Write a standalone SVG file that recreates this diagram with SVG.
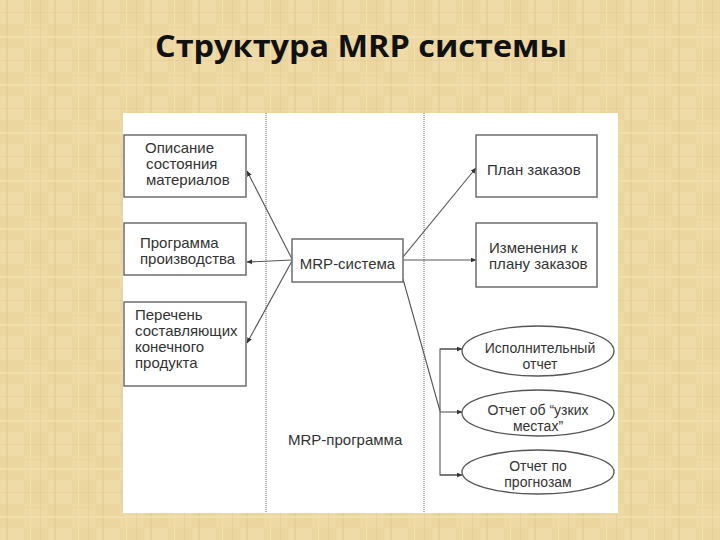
<svg xmlns="http://www.w3.org/2000/svg" width="720" height="540" viewBox="0 0 720 540">
  <defs>
    <pattern id="parch" x="0" y="0" width="48" height="48" patternUnits="userSpaceOnUse">
      <rect width="48" height="48" fill="#ecd6a0"/>
      <rect x="0" y="0" width="24" height="24" fill="#efdba8"/>
      <rect x="24" y="24" width="24" height="24" fill="#eed8a3"/>
      <rect x="6" y="0" width="2" height="48" fill="#e5cd93" opacity="0.7"/>
      <rect x="30" y="0" width="1" height="48" fill="#f2e1b4" opacity="0.8"/>
      <rect x="0" y="12" width="48" height="1" fill="#e4cc92" opacity="0.6"/>
      <rect x="0" y="36" width="48" height="2" fill="#f3e2b6" opacity="0.6"/>
      <rect x="40" y="0" width="1" height="48" fill="#e2ca8e" opacity="0.5"/>
      <rect x="0" y="27" width="48" height="1" fill="#e7d199" opacity="0.5"/>
    </pattern>
    <marker id="arr" viewBox="0 0 10 10" refX="9" refY="5" markerWidth="6" markerHeight="6" orient="auto" markerUnits="userSpaceOnUse">
      <path d="M0,1 L10,5 L0,9 z" fill="#333"/>
    </marker>
    <style>
      .lbl { font-family: "Liberation Sans", Arial, sans-serif; font-size: 15px; fill: #333; }
      .el { font-size: 14px; }
      .mid { text-anchor: middle; }
      .box { fill: #fff; stroke: #6e6e6e; stroke-width: 1.5; }
      .ell { fill: #fff; stroke: #555; stroke-width: 1.3; }
      .ln { fill: none; stroke: #555; stroke-width: 1.1; }
      .dot { stroke: #9a9a9a; stroke-width: 1.5; stroke-dasharray: 1 1; }
    </style>
  </defs>

  <rect width="720" height="540" fill="url(#parch)"/>

  <text x="361" y="57" text-anchor="middle" font-family="'Open Sans', 'Noto Sans', sans-serif" font-weight="bold" font-size="31" fill="#111" textLength="412" lengthAdjust="spacingAndGlyphs">Структура MRP системы</text>

  <rect x="123" y="113" width="495" height="400" fill="#fff"/>

  <g id="dividers">
    <line class="dot" x1="266" y1="113" x2="266" y2="513"/>
    <line class="dot" x1="424" y1="113" x2="424" y2="513"/>
  </g>

  <g id="connectors">
    <line class="ln" x1="292" y1="259" x2="247" y2="171" marker-end="url(#arr)"/>
    <line class="ln" x1="292" y1="260" x2="247" y2="262" marker-end="url(#arr)"/>
    <line class="ln" x1="292" y1="261" x2="247" y2="343" marker-end="url(#arr)"/>
    <line class="ln" x1="403" y1="257" x2="476" y2="168" marker-end="url(#arr)"/>
    <line class="ln" x1="403" y1="260" x2="476" y2="260" marker-end="url(#arr)"/>
    <line class="ln" x1="403" y1="279" x2="440" y2="411"/>
    <polyline class="ln" points="459,349 440,349 440,475 459,475"/>
    <line class="ln" x1="440" y1="349" x2="462" y2="349" marker-end="url(#arr)"/>
    <line class="ln" x1="440" y1="412" x2="462" y2="412" marker-end="url(#arr)"/>
    <line class="ln" x1="440" y1="475" x2="462" y2="475" marker-end="url(#arr)"/>
  </g>

  <g id="mrp-system">
    <rect class="box" x="292" y="239" width="111" height="43"/>
    <text class="lbl mid" x="347.5" y="269">MRP-система</text>
  </g>

  <g id="materials">
    <rect class="box" x="124" y="135" width="122" height="62"/>
    <text class="lbl" x="145" y="153">Описание</text>
    <text class="lbl" x="146" y="169">состояния</text>
    <text class="lbl" x="146" y="185">материалов</text>
  </g>

  <g id="production">
    <rect class="box" x="124" y="223" width="122" height="52"/>
    <text class="lbl" x="140" y="248">Программа</text>
    <text class="lbl" x="140" y="264">производства</text>
  </g>

  <g id="components">
    <rect class="box" x="124" y="302" width="122" height="84"/>
    <text class="lbl" x="135" y="320">Перечень</text>
    <text class="lbl" x="135" y="336">составляющих</text>
    <text class="lbl" x="135" y="352">конечного</text>
    <text class="lbl" x="135" y="368">продукта</text>
  </g>

  <g id="order-plan">
    <rect class="box" x="476" y="135" width="121" height="62"/>
    <text class="lbl" x="487" y="175">План заказов</text>
  </g>

  <g id="plan-changes">
    <rect class="box" x="476" y="223" width="121" height="64"/>
    <text class="lbl" x="489" y="253">Изменения к</text>
    <text class="lbl" x="489" y="269">плану заказов</text>
  </g>

  <g id="exec-report">
    <ellipse class="ell" cx="538" cy="351" rx="76" ry="25"/>
    <text class="lbl el mid" x="540" y="353">Исполнительный</text>
    <text class="lbl el mid" x="540" y="369">отчет</text>
  </g>

  <g id="bottleneck-report">
    <ellipse class="ell" cx="538" cy="413" rx="76" ry="23"/>
    <text class="lbl el mid" x="538" y="415">Отчет об “узких</text>
    <text class="lbl el mid" x="538" y="431">местах”</text>
  </g>

  <g id="forecast-report">
    <ellipse class="ell" cx="538" cy="472" rx="76" ry="22"/>
    <text class="lbl el mid" x="538" y="471">Отчет по</text>
    <text class="lbl el mid" x="538" y="487">прогнозам</text>
  </g>

  <g id="mrp-program">
    <text class="lbl" x="288" y="445">MRP-программа</text>
  </g>
</svg>
